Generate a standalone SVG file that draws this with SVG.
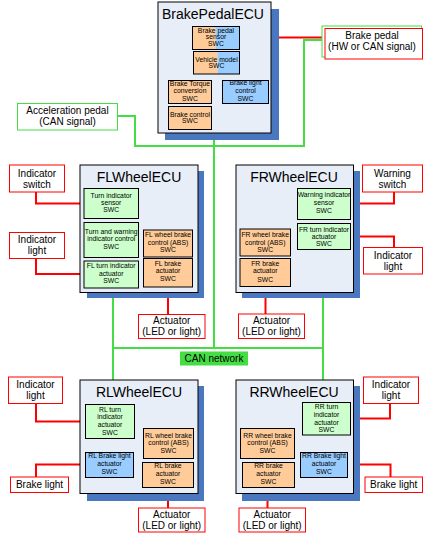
<svg xmlns="http://www.w3.org/2000/svg" width="431" height="540" viewBox="0 0 431 540">
<style>
.ecu{fill:#E8EEF8;stroke:#000;stroke-width:1}
.sh{fill:#4A78C0}
.ttl{font-family:"Liberation Sans",Arial,sans-serif;font-size:14px;fill:#000;text-anchor:middle}
.o{fill:#FFCC99;stroke:#000;stroke-width:1}
.g{fill:#CCFFCC;stroke:#000;stroke-width:1}
.b{fill:#99CCFF;stroke:#000;stroke-width:1}
.ol{fill:none;stroke:#000;stroke-width:1}
.nf{stroke:none}
.s{font-family:"Liberation Sans",Arial,sans-serif;font-size:6.8px;fill:#000;text-anchor:middle}
.lb{fill:#fff;stroke:#FF0000;stroke-width:1}
.lg{fill:#fff;stroke:#44DD44;stroke-width:1}
.t{font-family:"Liberation Sans",Arial,sans-serif;font-size:10px;fill:#000;text-anchor:middle}
.cg{fill:none;stroke:#44DD44;stroke-width:2}
.cr{fill:none;stroke:#FF0000;stroke-width:2}
</style>
<rect width="431" height="540" fill="#fff"/>

<g id="connectors">
<path class="cg" d="M322,40 H304 V146 H214"/>
<path class="cg" d="M117.5,116 H135 V146 H214"/>
<path class="cg" d="M214,133 V348"/>
<path class="cg" d="M113,348 H323"/>
<path class="cg" d="M113,292.5 V380"/>
<path class="cg" d="M323,292.5 V380"/>
<path class="cr" d="M239.5,37.5 H325"/>
<path class="cr" d="M36,192 V203.5 H84"/>
<path class="cr" d="M36,258.5 V274 H84"/>
<path class="cr" d="M168,287 V314.5"/>
<path class="cr" d="M350.5,203.5 H394 V192"/>
<path class="cr" d="M350.5,236.5 H394 V247.5"/>
<path class="cr" d="M265.5,286.5 V314"/>
<path class="cr" d="M36,403.5 V421.5 H85.5"/>
<path class="cr" d="M36,477 V464.5 H85.5"/>
<path class="cr" d="M168,487.5 V508"/>
<path class="cr" d="M350.5,418.5 H390 V403.5"/>
<path class="cr" d="M347.5,464.5 H390.5 V477"/>
<path class="cr" d="M267.5,487.5 V508"/>
</g>

<g id="BrakePedalECU">
<rect class="sh" x="165" y="9" width="114" height="131"/>
<rect class="ecu" x="158" y="2" width="113" height="131"/>
<text class="ttl" x="213" y="18.5">BrakePedalECU</text>
<g id="BrakePedalSensorSWC">
<rect class="o nf" x="192.5" y="26.5" width="23" height="23"/>
<rect class="b nf" x="215.5" y="26.5" width="24" height="23"/>
<rect class="ol" x="192.5" y="26.5" width="47" height="23"/>
<text class="s" x="216" y="32.5">Brake pedal</text>
<text class="s" x="216" y="39">sensor</text>
<text class="s" x="216" y="45.5">SWC</text>
</g>
<g id="VehicleModelSWC">
<rect class="o nf" x="193.5" y="51.5" width="24" height="22.5"/>
<rect class="b nf" x="217.5" y="51.5" width="22" height="22.5"/>
<rect class="ol" x="193.5" y="51.5" width="46" height="22.5"/>
<text class="s" x="216.5" y="61.7">Vehicle model</text>
<text class="s" x="216.5" y="68.3">SWC</text>
</g>
<g id="BrakeTorqueSWC">
<rect class="o" x="168.5" y="80.5" width="43" height="23"/>
<text class="s" x="190" y="85.8">Brake Torque</text>
<text class="s" x="190" y="93.1">conversion</text>
<text class="s" x="190" y="100.6">SWC</text>
</g>
<g id="BrakeLightControlSWC">
<rect class="b" x="222.5" y="80.5" width="46" height="23"/>
<text class="s" x="245.5" y="85">Brake light</text>
<text class="s" x="245.5" y="93.1">control</text>
<text class="s" x="245.5" y="100.6">SWC</text>
</g>
<g id="BrakeControlSWC">
<rect class="o" x="168.5" y="106.5" width="43" height="23"/>
<text class="s" x="190" y="116.7">Brake control</text>
<text class="s" x="190" y="123">SWC</text>
</g>
</g>

<g id="BrakePedalInput">
<rect class="lg" x="322" y="26" width="99.5" height="31"/>
<rect class="lb" x="325" y="28.5" width="97.5" height="30.5"/>
<text class="t" x="372" y="39.4">Brake pedal</text>
<text class="t" x="372" y="50.4">(HW or CAN signal)</text>
</g>

<g id="AccelerationPedal">
<rect class="lg" x="17.5" y="103.5" width="100" height="26.5"/>
<text class="t" x="67.5" y="114.4">Acceleration pedal</text>
<text class="t" x="67.5" y="125.4">(CAN signal)</text>
</g>

<g id="FLWheelECU">
<rect class="sh" x="87" y="171" width="117" height="127"/>
<rect class="ecu" x="80" y="165" width="118" height="127.5"/>
<text class="ttl" x="139" y="181.5">FLWheelECU</text>
<g id="TurnIndicatorSensorSWC">
<rect class="g" x="84" y="188.5" width="54.5" height="30"/>
<text class="s" x="111.2" y="197.5">Turn indicator</text>
<text class="s" x="111.2" y="204.8">sensor</text>
<text class="s" x="111.2" y="212.1">SWC</text>
</g>
<g id="TurnWarningControlSWC">
<rect class="g" x="84" y="222.5" width="54.5" height="35"/>
<text class="s" x="111.2" y="234">Turn and warning</text>
<text class="s" x="111.2" y="241.4">indicator control</text>
<text class="s" x="111.2" y="249">SWC</text>
</g>
<g id="FLTurnIndicatorActuatorSWC">
<rect class="g" x="84" y="261" width="54.5" height="27"/>
<text class="s" x="111.2" y="268">FL turn indicator</text>
<text class="s" x="111.2" y="275.7">actuator</text>
<text class="s" x="111.2" y="283">SWC</text>
</g>
<g id="FLWheelBrakeControlSWC">
<rect class="o" x="143.5" y="230" width="49" height="27"/>
<text class="s" x="168" y="236.7">FL wheel brake</text>
<text class="s" x="168" y="244.7">control (ABS)</text>
<text class="s" x="168" y="252">SWC</text>
</g>
<g id="FLBrakeActuatorSWC">
<rect class="o" x="143.5" y="258.5" width="49" height="28.5"/>
<text class="s" x="168" y="265.7">FL brake</text>
<text class="s" x="168" y="273.4">actuator</text>
<text class="s" x="168" y="281.4">SWC</text>
</g>
</g>

<g id="FLIndicatorSwitch">
<rect class="lb" x="9.5" y="165" width="55" height="27"/>
<text class="t" x="37" y="177">Indicator</text>
<text class="t" x="37" y="188">switch</text>
</g>
<g id="FLIndicatorLight">
<rect class="lb" x="9.5" y="232.5" width="55" height="26"/>
<text class="t" x="37" y="243">Indicator</text>
<text class="t" x="37" y="254.4">light</text>
</g>
<g id="FLActuator">
<rect class="lb" x="138.5" y="314.5" width="66.5" height="24"/>
<text class="t" x="171.7" y="324.4">Actuator</text>
<text class="t" x="171.7" y="335.4">(LED or light)</text>
</g>

<g id="FRWheelECU">
<rect class="sh" x="242" y="171" width="118" height="127"/>
<rect class="ecu" x="236" y="165" width="117.5" height="127.5"/>
<text class="ttl" x="294" y="181.5">FRWheelECU</text>
<g id="WarningIndicatorSensorSWC">
<rect class="g" x="297.5" y="188.5" width="53" height="31"/>
<text class="s" x="324" y="197.4">Warning indicator</text>
<text class="s" x="324" y="204.7">sensor</text>
<text class="s" x="324" y="212.7">SWC</text>
</g>
<g id="FRTurnIndicatorActuatorSWC">
<rect class="g" x="297.5" y="223.5" width="53" height="26"/>
<text class="s" x="324" y="231.5">FR turn indicator</text>
<text class="s" x="324" y="238.5">actuator</text>
<text class="s" x="324" y="246">SWC</text>
</g>
<g id="FRWheelBrakeControlSWC">
<rect class="o" x="240" y="229" width="50.5" height="27"/>
<text class="s" x="265.2" y="237">FR wheel brake</text>
<text class="s" x="265.2" y="244.5">control (ABS)</text>
<text class="s" x="265.2" y="251.5">SWC</text>
</g>
<g id="FRBrakeActuatorSWC">
<rect class="o" x="240" y="258.5" width="50.5" height="28"/>
<text class="s" x="265.2" y="265.7">FR brake</text>
<text class="s" x="265.2" y="273.4">actuator</text>
<text class="s" x="265.2" y="281.7">SWC</text>
</g>
</g>

<g id="WarningSwitch">
<rect class="lb" x="362.5" y="165" width="60" height="27"/>
<text class="t" x="392.5" y="177">Warning</text>
<text class="t" x="392.5" y="187.5">switch</text>
</g>
<g id="FRIndicatorLight">
<rect class="lb" x="363.5" y="247.5" width="59" height="26.5"/>
<text class="t" x="393" y="258.7">Indicator</text>
<text class="t" x="393" y="269.7">light</text>
</g>
<g id="FRActuator">
<rect class="lb" x="238.5" y="314" width="66" height="24.5"/>
<text class="t" x="271.5" y="324.4">Actuator</text>
<text class="t" x="271.5" y="335.4">(LED or light)</text>
</g>

<g id="CANNetwork">
<rect x="180" y="351.5" width="68" height="14" fill="#44DD44"/>
<text class="t" x="214" y="362">CAN network</text>
</g>

<g id="RLWheelECU">
<rect class="sh" x="87" y="386" width="117" height="115"/>
<rect class="ecu" x="80" y="380" width="118" height="113.5"/>
<text class="ttl" x="139" y="396.5">RLWheelECU</text>
<g id="RLTurnIndicatorActuatorSWC">
<rect class="g" x="85.5" y="404.5" width="49" height="34"/>
<text class="s" x="110" y="411.7">RL turn</text>
<text class="s" x="110" y="419">indicator</text>
<text class="s" x="110" y="426.7">actuator</text>
<text class="s" x="110" y="434.7">SWC</text>
</g>
<g id="RLBrakeLightActuatorSWC">
<rect class="b" x="85.5" y="452.5" width="48" height="25"/>
<text class="s" x="109.5" y="458.4">RL Brake light</text>
<text class="s" x="109.5" y="465.7">actuator</text>
<text class="s" x="109.5" y="474">SWC</text>
</g>
<g id="RLWheelBrakeControlSWC">
<rect class="o" x="143.5" y="428.5" width="50" height="30"/>
<text class="s" x="168.5" y="437.7">RL wheel brake</text>
<text class="s" x="168.5" y="445">control (ABS)</text>
<text class="s" x="168.5" y="452.7">SWC</text>
</g>
<g id="RLBrakeActuatorSWC">
<rect class="o" x="142.5" y="462.5" width="51" height="25"/>
<text class="s" x="168" y="468.4">RL brake</text>
<text class="s" x="168" y="476.4">actuator</text>
<text class="s" x="168" y="483.7">SWC</text>
</g>
</g>

<g id="RLIndicatorLight">
<rect class="lb" x="8.5" y="377" width="54" height="26.5"/>
<text class="t" x="35.5" y="387.7">Indicator</text>
<text class="t" x="35.5" y="398.5">light</text>
</g>
<g id="RLBrakeLight">
<rect class="lb" x="10.5" y="477" width="58" height="15.5"/>
<text class="t" x="39.5" y="488">Brake light</text>
</g>
<g id="RLActuator">
<rect class="lb" x="138.5" y="508" width="66.5" height="24"/>
<text class="t" x="171.7" y="517.5">Actuator</text>
<text class="t" x="171.7" y="528.7">(LED or light)</text>
</g>

<g id="RRWheelECU">
<rect class="sh" x="242" y="386" width="118" height="115"/>
<rect class="ecu" x="236" y="380" width="117.5" height="113.5"/>
<text class="ttl" x="294" y="396.5">RRWheelECU</text>
<g id="RRTurnIndicatorActuatorSWC">
<rect class="g" x="302.5" y="402.5" width="48" height="32.5"/>
<text class="s" x="326.5" y="409">RR turn</text>
<text class="s" x="326.5" y="416.7">indicator</text>
<text class="s" x="326.5" y="424.7">actuator</text>
<text class="s" x="326.5" y="432">SWC</text>
</g>
<g id="RRBrakeLightActuatorSWC">
<rect class="b" x="300.5" y="452.5" width="47" height="25"/>
<text class="s" x="324" y="458.4">RR Brake light</text>
<text class="s" x="324" y="465.7">actuator</text>
<text class="s" x="324" y="474">SWC</text>
</g>
<g id="RRWheelBrakeControlSWC">
<rect class="o" x="240.5" y="428.5" width="54" height="30"/>
<text class="s" x="267.5" y="437.7">RR wheel brake</text>
<text class="s" x="267.5" y="445">control (ABS)</text>
<text class="s" x="267.5" y="452.7">SWC</text>
</g>
<g id="RRBrakeActuatorSWC">
<rect class="o" x="242.5" y="462.5" width="52" height="25"/>
<text class="s" x="268.5" y="468.4">RR brake</text>
<text class="s" x="268.5" y="476.4">actuator</text>
<text class="s" x="268.5" y="483.7">SWC</text>
</g>
</g>

<g id="RRIndicatorLight">
<rect class="lb" x="363.5" y="377" width="55" height="26.5"/>
<text class="t" x="391" y="387.7">Indicator</text>
<text class="t" x="391" y="398.5">light</text>
</g>
<g id="RRBrakeLight">
<rect class="lb" x="365" y="477" width="57.5" height="15.5"/>
<text class="t" x="393.7" y="488">Brake light</text>
</g>
<g id="RRActuator">
<rect class="lb" x="239" y="508" width="66.5" height="24"/>
<text class="t" x="272.2" y="517.5">Actuator</text>
<text class="t" x="272.2" y="528.7">(LED or light)</text>
</g>
</svg>
